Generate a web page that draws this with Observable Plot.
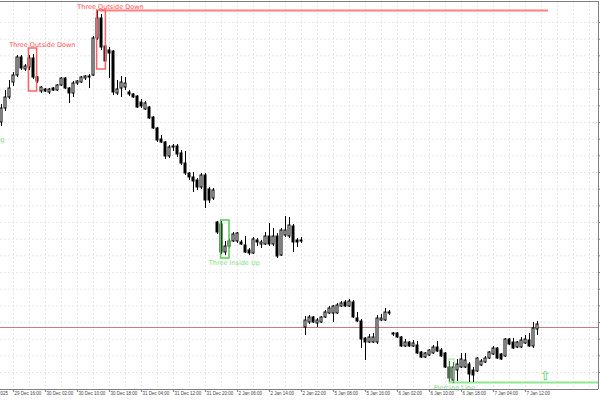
<!DOCTYPE html>
<html><head><meta charset="utf-8">
<script src="https://cdn.jsdelivr.net/npm/d3@7"></script>
<script src="https://cdn.jsdelivr.net/npm/@observablehq/plot@0.6"></script>
<style>html,body{margin:0;padding:0;background:#fff}svg{display:block}</style>
</head><body><div id="chart"></div>
<script>
// Hourly OHLC (price in points), bar index 0..134
const open = [278,292,303,318,325,343,331,333,342,323, 309,311,308,312,310,315,322,312,307,317, 318,322,323,325,362,382,354,350,349,307, 312,313,308,306,304,298,291,293,283,272, 261,258,244,253,254,247,237,227,223,220, 213,225,211,202,178,176,148,154,159,159, 158,155,150,147,160,156,156,164,156,164, 145,165,164,174,160,159,73,78,83,77, 78,83,87,87,87,94,98,94,98,82, 79,62,58,58,58,80,80,87,67,67, 63,54,58,54,55,48,43,45,47,53, 50,47,33,20,30,33,33,36,30,29, 35,38,42,46,52,46,44,61,58,53, 53,57,60,54,71];
const high = [296,310,320,328,345,345,336,345,346,324, 314,312,312,313,316,323,323,313,319,320, 324,325,326,364,390,386,355,353,350,320, 324,323,310,307,305,301,299,294,284,273, 265,259,255,256,256,250,249,228,228,222, 227,227,213,212,179,179,159,162,168,168, 160,164,152,163,162,160,168,177,172,167, 172,184,183,176,162,163,84,85,84,82, 84,90,94,95,97,99,100,101,100,88, 81,63,66,67,85,86,92,90,68,68, 64,61,59,60,59,49,48,51,55,59, 52,48,39,38,41,47,47,38,33,43, 41,44,49,54,53,47,62,62,62,59, 63,65,67,78,79];
const low = [274,289,301,314,323,330,329,330,321,317, 307,308,306,309,309,314,311,297,303,315, 317,320,312,324,360,350,337,322,305,305, 303,310,304,302,292,292,290,281,271,258, 257,241,242,249,243,235,225,220,208,210, 211,192,197,200,166,146,145,152,158,157, 155,147,145,146,154,152,155,154,154,142, 144,163,162,148,153,157,65,76,77,73, 77,82,86,78,86,93,93,93,82,78, 52,40,57,57,56,79,79,85,64,62, 53,53,53,53,46,42,42,44,46,48, 43,32,18,17,19,32,32,18,18,28, 34,37,41,45,41,40,43,55,51,52, 52,56,53,52,65];
const close = [292,303,312,325,343,332,334,342,323,319, 313,309,311,310,315,322,312,307,317,319, 323,324,324,362,382,353,339,347,308,311, 318,317,306,303,293,294,297,282,272,260, 258,244,253,254,246,237,227,223,219,213, 225,200,200,210,168,148,154,159,166,167, 156,148,147,161,158,158,164,156,164,144, 170,170,175,158,158,160,80,83,78,80, 83,88,92,94,95,97,94,99,83,79, 61,58,63,63,82,82,88,88,66,63, 54,58,54,57,47,43,47,50,53,49, 44,33,22,33,36,41,40,26,25,42, 39,42,48,52,42,41,61,56,52,58, 60,61,54,72,76];

// time axis labels (bar index of each label)
const timeTickBars = [-5,3,11,19,27,35,43,51,59,67,75,83,91,99,107,115,123,131];
const timeTickLabels = ["29 Dec 2025","29 Dec 16:00","30 Dec 02:00","30 Dec 10:00","30 Dec 18:00","31 Dec 04:00","31 Dec 12:00","31 Dec 20:00","2 Jan 06:00","2 Jan 14:00","2 Jan 22:00","5 Jan 08:00","5 Jan 16:00","6 Jan 02:00","6 Jan 10:00","6 Jan 18:00","7 Jan 04:00","7 Jan 12:00"];

// price grid levels
const priceGrid = [28,44.67,61.33,78,94.67,111.33,128,144.67,161.33,178,194.67,211.33,228,244.67,261.33,278,294.67,311.33,328,344.67,361.33,378];
const bidPrice = [73];

// candlestick patterns
const patternNames = ["Three Outside Down","Three Outside Down","Three Inside Up","Piercing Line"];
const patternStart = [6.85, 23.9, 54.9, 112];
const patternEnd = [8.9, 26.1, 57.0, 113.25];
const patternTop = [352, 390, 180, 41];
const patternBottom = [309, 331, 142, 18];
const patternKind = ["bear","bear","bull","bull2"];
const labelBar = [10.2, 27.25, 58.2, 113.2];
const labelPrice = [355.6, 393.3, 138, 13];
// level lines drawn from patterns
const levelPrice = [390, 18];
const levelStart = [24.75, 112];
const levelEnd = [136.75, 149.5];
// off-screen pattern label and buy signal arrow
const cutLabel = ["Bullish Engulfing"];
const cutLabelBar = [0.75];
const cutLabelPrice = [261];
const signalBar = [135.9];
const signalPrice = [25];

const bars = open.map((o, i) => ({i, open: o, high: high[i], low: low[i], close: close[i]}));
const patterns = patternNames.map((name, k) => ({name, x1: patternStart[k], x2: patternEnd[k], y1: patternBottom[k], y2: patternTop[k], kind: patternKind[k], lx: labelBar[k], ly: labelPrice[k]}));
const levels = levelPrice.map((p, k) => ({p, x1: levelStart[k], x2: levelEnd[k], bear: k === 0}));

const boxColor = {bear: "#ff6060", bull: "#50d050", bull2: "#8ee88e"};
const boxWidth = {bear: 1.5, bull: 1.5, bull2: 1};
const textColor = {bear: "#ff4d4d", bull: "#7adf7a", bull2: "#6fdc6f"};

const X0 = -0.25, X1 = 149.25, Y0 = 11, Y1 = 399;
const font = "DejaVu Sans";
const gridStyle = {stroke: "#e6e6e6", strokeDasharray: "2,2"};

const chart = Plot.plot({
  width: 600, height: 400,
  marginLeft: 0, marginRight: 2, marginTop: 1, marginBottom: 11,
  style: {background: "#fff", fontFamily: font},
  x: {domain: [X0, X1], axis: null},
  y: {domain: [Y0, Y1], axis: null},
  marks: [
    Plot.ruleX(d3.range(3, 149, 4), gridStyle),
    Plot.ruleY(priceGrid, gridStyle),
    Plot.ruleY(bidPrice, {stroke: "#c97a7a", strokeWidth: 1}),
    Plot.ruleY(levels, {y: "p", x1: "x1", x2: "x2", stroke: d => d.bear ? "#ff8080" : "#90e890", strokeWidth: 2}),
    Plot.ruleX(bars, {x: "i", y1: "low", y2: "high", stroke: "#000", strokeWidth: 1}),
    Plot.rect(bars, {x1: d => d.i - 0.25, x2: d => d.i + 0.25, y1: "open", y2: "close",
      fill: d => d.close >= d.open ? "#fff" : "#000", stroke: "#000", strokeWidth: 1}),
    Plot.rect(patterns.filter(d => d.kind !== "bull2"), {x1: "x1", x2: "x2", y1: "y1", y2: "y2", fill: "none",
      stroke: d => boxColor[d.kind], strokeWidth: 1.5}),
    Plot.rect(patterns.filter(d => d.kind === "bull2"), {x1: "x1", x2: "x2", y1: "y1", y2: "y2", fill: "none",
      stroke: d => boxColor[d.kind], strokeWidth: 1}),
    Plot.text(patterns, {x: "lx", y: "ly", text: "name", fill: d => textColor[d.kind],
      fontSize: 6.5, fontFamily: font, textAnchor: "middle"}),
    Plot.text(cutLabel, {x: (d, k) => cutLabelBar[k], y: (d, k) => cutLabelPrice[k], text: d => d,
      fill: "#7adf7a", fontSize: 6.5, fontFamily: font, textAnchor: "end"}),
    Plot.text(["\u21e7"], {x: (d, k) => signalBar[k], y: (d, k) => signalPrice[k], text: d => d,
      fill: "#50d050", fontSize: 13, fontFamily: font}),
    // frame: top, bottom axis, right axis
    Plot.ruleY([Y1], {stroke: "#808080"}),
    Plot.ruleY([Y0], {stroke: "#808080"}),
    Plot.ruleX([X1], {stroke: "#808080"}),
    Plot.ruleY(priceGrid, {x1: X1, x2: X1 + 0.75, stroke: "#808080"}),
    Plot.ruleX(timeTickBars, {y1: Y0, y2: Y0 - 3, stroke: "#808080"}),
    Plot.text(timeTickBars, {x: d => d, text: (d, k) => timeTickLabels[k], frameAnchor: "bottom",
      dy: 5, dx: 1, textAnchor: "start", fontSize: 4.5, fontFamily: "Liberation Sans", fill: "#444"})
  ]
});
document.getElementById("chart").appendChild(chart);
</script>
</body></html>
